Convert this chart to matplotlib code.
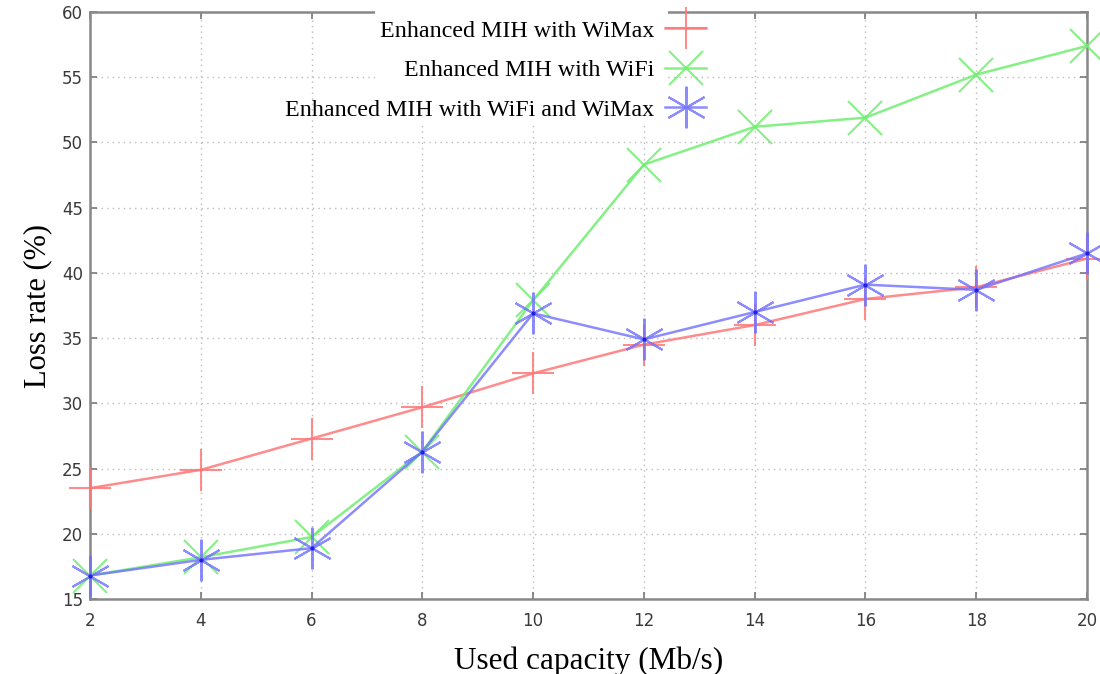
import matplotlib
matplotlib.use("Agg")
import matplotlib.pyplot as plt
from matplotlib.patches import Rectangle

# ------------- dados -------------
capacidade = [2, 4, 6, 8, 10, 12, 14, 16, 18, 20]
wimax = [23.5, 24.9, 27.3, 29.7, 32.3, 34.5, 36.0, 38.0, 38.9, 41.1]
wifi = [16.8, 18.2, 19.75, 26.3, 37.9, 48.3, 51.2, 51.9, 55.2, 57.4]
wifi_wimax = [16.8, 18.0, 18.9, 26.3, 36.9, 34.9, 37.0, 39.1, 38.7, 41.5]

nomes = ["Enhanced MIH with WiMax", "Enhanced MIH with WiFi",
         "Enhanced MIH with WiFi and WiMax"]

xticks = [2, 4, 6, 8, 10, 12, 14, 16, 18, 20]
yticks = [15, 20, 25, 30, 35, 40, 45, 50, 55, 60]

W, H = 1100, 674
x0, x1, y0, y1 = 90, 1087, 12, 599

# ------------- figura -------------
fig = plt.figure(figsize=(11, 6.74), dpi=100)
ax = fig.add_axes([x0/W, 1 - y1/H, (x1-x0)/W, (y1-y0)/H])

estilo = dict(lw=1.8, mew=1.5, clip_on=False, zorder=3)
ax.plot(capacidade, wimax, color="#ff7878", marker="+", ms=30,
        alpha=0.85, label=nomes[0], **estilo)
ax.plot(capacidade, wifi, color="#70ee70", marker="x", ms=25,
        alpha=0.85, label=nomes[1], **estilo)
ax.plot(capacidade, wifi_wimax, color="#7070ff", marker=(6, 2, 0),
        ms=30, alpha=0.8, label=nomes[2], **estilo)
ax.plot(capacidade, wifi_wimax, ls="none", marker=".", ms=4, color="#2020dd",
        clip_on=False, zorder=4)

ax.set_xlim(2, 20)
ax.set_ylim(15, 60)
ax.set_xticks(xticks)
ax.set_yticks(yticks)
ax.grid(True, ls=(0, (1, 3)), color="#bbbbbb", lw=1)

for s in ax.spines.values():
    s.set_color("#888888")
    s.set_linewidth(1.8)
ax.tick_params(direction="in", length=5, width=1.2, color="#777777",
               top=True, right=True, labelsize=12, labelcolor="#3a3a3a")
ax.tick_params(axis="y", pad=5)
ax.tick_params(axis="x", pad=9)

ax.set_xlabel("Used capacity (Mb/s)", family="Liberation Serif",
              fontsize=22.5, labelpad=12)
ax.set_ylabel("Loss rate (%)", family="Liberation Serif", fontsize=22,
              labelpad=7)

# caixa branca da legenda (cobre a borda de cima, como no gnuplot)
caixa = Rectangle(((375 - x0)/(x1 - x0), (y1 - 122)/(y1 - y0)),
                  (668 - 375)/(x1 - x0), 130/(y1 - y0),
                  transform=ax.transAxes, facecolor="white",
                  edgecolor="none", clip_on=False, zorder=4)
ax.add_patch(caixa)

leg = ax.legend(loc="upper right",
                bbox_to_anchor=((718 - x0)/(x1 - x0), (y1 - 8)/(y1 - y0)),
                markerfirst=False, frameon=False, handlelength=1.7,
                prop={"family": "Liberation Serif", "size": 17.3},
                labelspacing=0.73, borderpad=0.0, handletextpad=0.45)
leg.set_zorder(5)

fig.savefig("out.png", dpi=100)
